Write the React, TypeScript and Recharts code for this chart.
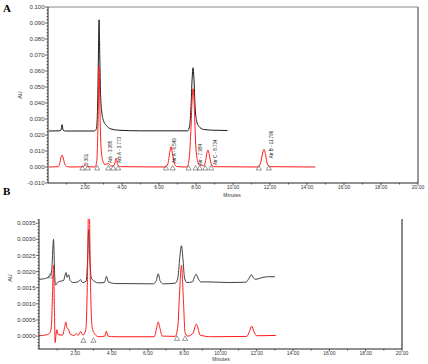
import React from "react";
import { ComposedChart, Line, XAxis, YAxis, ReferenceLine, ReferenceDot, Label } from "recharts";

type Pt = [number, number];

// Panel A (AU vs minutes)
const aBlack: Pt[] = [
  [0.05, 0.0225], [0.6, 0.0226], [0.7, 0.023], [0.76, 0.0265], [0.82, 0.023], [0.95, 0.0225],
  [2.5, 0.0225], [2.62, 0.024], [2.68, 0.038], [2.72, 0.065], [2.76, 0.092], [2.8, 0.068],
  [2.84, 0.046], [2.9, 0.035], [3.0, 0.029], [3.15, 0.026], [3.4, 0.0238], [3.8, 0.023],
  [5.0, 0.0226], [7.55, 0.0226], [7.66, 0.026], [7.73, 0.038], [7.79, 0.055], [7.84, 0.062],
  [7.89, 0.055], [7.95, 0.038], [8.03, 0.029], [8.15, 0.0255], [8.4, 0.0235], [8.9, 0.023],
  [9.7, 0.0228],
];

const aRed: Pt[] = [
  [0.05, 0], [0.55, 0.0002], [0.63, 0.002], [0.7, 0.0058], [0.76, 0.0075], [0.82, 0.0058],
  [0.9, 0.002], [1.0, 0.0004], [1.2, 0], [1.85, 0.0001], [2.02, 0.0012], [2.15, 0.0002],
  [2.55, 0], [2.64, 0.004], [2.7, 0.025], [2.76, 0.063], [2.82, 0.028], [2.88, 0.01],
  [2.96, 0.004], [3.08, 0.0015], [3.25, 0.0022], [3.4, 0.0006], [3.58, 0.001], [3.68, 0.0055],
  [3.78, 0.0012], [3.95, 0.0002], [6.35, 0], [6.48, 0.002], [6.58, 0.009], [6.65, 0.0127],
  [6.72, 0.009], [6.82, 0.0025], [6.95, 0.0003], [7.5, 0], [7.62, 0.004], [7.72, 0.022],
  [7.79, 0.042], [7.84, 0.049], [7.9, 0.04], [7.98, 0.015], [8.08, 0.004], [8.2, 0.001],
  [8.3, 0.0012], [8.42, 0.0006], [8.52, 0.004], [8.6, 0.0095], [8.65, 0.0106], [8.72, 0.0075],
  [8.82, 0.002], [8.95, 0.0002], [11.35, 0], [11.5, 0.003], [11.62, 0.0095], [11.68, 0.011],
  [11.75, 0.0085], [11.85, 0.002], [12.0, 0.0002], [14.45, 0],
];

const aPeakNames = ["2.301", "Arb - 3.385", "Arb A - 3.773", "Atr A - 6.549", "Atr - 7.984", "Atr C - 8.734", "Atr B - 11.796"];
const aPeakLabelT = [2.1, 3.35, 3.84, 6.86, 8.26, 9.04, 12.08];
const aPeakLabelV = [0.0012, 0.0025, 0.0025, 0.0025, 0.0012, 0.0012, 0.0055];

const aMarkT = [1.86, 2.15, 2.66, 3.26, 3.53, 3.79, 6.38, 6.74, 7.6, 7.98, 8.2, 8.5, 8.82, 11.4, 11.94];

// Panel B
const bBlack: Pt[] = [
  [0, 0.00176], [0.3, 0.00178], [0.55, 0.00184], [0.65, 0.0019], [0.72, 0.0022], [0.77, 0.0028],
  [0.8, 0.003], [0.83, 0.0026], [0.87, 0.0018], [0.92, 0.00158], [1.0, 0.00165], [1.15, 0.0017],
  [1.35, 0.00172], [1.44, 0.0019], [1.49, 0.00197], [1.55, 0.00182], [1.63, 0.0019], [1.72, 0.00172],
  [1.9, 0.00166], [2.15, 0.00168], [2.28, 0.00175], [2.4, 0.00166], [2.6, 0.0017], [2.68, 0.0024],
  [2.74, 0.0033], [2.8, 0.0024], [2.88, 0.0018], [3.0, 0.00172], [3.3, 0.00165], [3.6, 0.00166],
  [3.72, 0.00185], [3.82, 0.00168], [4.2, 0.00163], [6.3, 0.00162], [6.45, 0.0017], [6.57, 0.00193],
  [6.68, 0.0017], [6.85, 0.00162], [7.5, 0.00164], [7.65, 0.0018], [7.75, 0.0024], [7.85, 0.0028],
  [7.93, 0.0024], [8.02, 0.0018], [8.15, 0.00166], [8.45, 0.00168], [8.58, 0.00185], [8.66, 0.00192],
  [8.76, 0.0018], [8.9, 0.00168], [9.3, 0.00168], [10.5, 0.00166], [11.4, 0.00167], [11.58, 0.0018],
  [11.7, 0.0019], [11.82, 0.0018], [11.95, 0.00176], [12.2, 0.0018], [12.6, 0.00184], [13.0, 0.00184],
];

const bRed: Pt[] = [
  [0, 0.00001], [0.4, 0.00004], [0.6, 0.0001], [0.68, 0.0003], [0.74, 0.0012], [0.8, 0.0022],
  [0.85, 0.0008], [0.89, -0.0002], [0.93, 0.0], [0.98, 0.0002], [1.05, 0.00005], [1.3, 0.00003],
  [1.42, 0.0003], [1.48, 0.00044], [1.54, 0.00025], [1.63, 0.00021], [1.72, 0.00006], [1.95, 0.00002],
  [2.06, 0.00008], [2.15, 0.00002], [2.3, 0.00014], [2.42, 0.00003], [2.58, 0.0002], [2.66, 0.0015],
  [2.75, 0.0046], [2.84, 0.0015], [2.92, 0.0003], [3.05, 0.00008], [3.3, -0.00002], [3.62, 0.0],
  [3.71, 0.00015], [3.8, 0.0], [4.2, -0.00002], [6.35, -0.00002], [6.48, 0.00025], [6.57, 0.00044],
  [6.66, 0.00025], [6.8, 0.0], [7.5, -0.00001], [7.65, 0.0003], [7.75, 0.0014], [7.85, 0.0022],
  [7.95, 0.0012], [8.05, 0.0001], [8.2, 0.0], [8.5, 0.0001], [8.6, 0.0003], [8.66, 0.00037],
  [8.74, 0.00028], [8.88, 0.00003], [9.5, -0.00002], [11.45, -0.00001], [11.6, 0.00015], [11.72, 0.00031],
  [11.84, 0.00014], [12.0, 0.00001], [13.05, 0.00002],
];

const bMarks: Pt[] = [[0.62, 0.0019], [2.45, -0.0001], [3.0, -0.0001], [7.6, -0.00004], [8.05, -0.00004]];

// axis ticks
const xMajor = [2, 4, 6, 8, 10, 12, 14, 16, 18, 20];
const aYMajor = [-0.01, 0, 0.01, 0.02, 0.03, 0.04, 0.05, 0.06, 0.07, 0.08, 0.09, 0.1];
const bYMajor = [0, 0.0005, 0.001, 0.0015, 0.002, 0.0025, 0.003, 0.0035];

const steps = (lo: number, hi: number, step: number) => {
  const out: number[] = [];
  for (let i = 0; lo + i * step <= hi + 1e-12; i++) out.push(+(lo + i * step).toFixed(6));
  return out;
};

const toRows = (pts: Pt[]) => pts.map(([t, v]) => ({ t, v }));
const isIn = (list: number[], v: number) => list.some((m) => Math.abs(m - v) < 1e-9);

const FONT = "'Liberation Sans', Arial, sans-serif";
const INK = "#333";

const makeYTick = (majors: number[], decimals: number) => (props: any) => {
  const { x, y, payload } = props;
  const major = isIn(majors, payload.value);
  return (
    <g>
      <line x1={x - (major ? 3 : 1.5)} x2={x} y1={y} y2={y} stroke="#222" strokeWidth={0.7} />
      {major && (
        <text x={x - 3.5} y={y} dy="0.35em" textAnchor="end" fontSize={6} fontFamily={FONT} fill={INK}>
          {payload.value.toFixed(decimals)}
        </text>
      )}
    </g>
  );
};

const xTick = (props: any) => {
  const { x, y, payload } = props;
  const major = isIn(xMajor, payload.value);
  return (
    <g>
      <line x1={x} x2={x} y1={y} y2={y + (major ? 2.5 : 1.5)} stroke="#222" strokeWidth={0.7} />
      {major && (
        <text x={x} y={y + 3.8} dy="0.35em" textAnchor="middle" fontSize={5} fontFamily={FONT} fill={INK}>
          {payload.value.toFixed(2)}
        </text>
      )}
    </g>
  );
};

const triangle = (p: any) => (
  <path
    d={`M${p.cx - 2.6},${p.cy + 3} L${p.cx},${p.cy - 1.5} L${p.cx + 2.6},${p.cy + 3} Z`}
    fill="none"
    stroke="#555"
    strokeWidth={0.6}
  />
);

const peakName = (name: string) => (p: any) => (
  <text
    x={p.cx}
    y={p.cy}
    dy="0.35em"
    transform={`rotate(-90 ${p.cx} ${p.cy})`}
    fontSize={4.5}
    fontFamily={FONT}
    fill="#222"
  >
    {name}
  </text>
);

const textAt = (x: number, y: number, s: string, size: number, rotate = false) => () => (
  <text
    x={x}
    y={y}
    textAnchor="middle"
    dy="0.35em"
    transform={rotate ? `rotate(-90 ${x} ${y})` : undefined}
    fontSize={size}
    fontFamily={FONT}
    fill={INK}
  >
    {s}
  </text>
);

const panelLetter: React.CSSProperties = {
  position: "absolute",
  left: 3,
  fontFamily: "'Liberation Serif', 'Times New Roman', serif",
  fontWeight: "bold",
  fontSize: 11,
  lineHeight: "11px",
};

const App: React.FC = () => {
  const aYTicks = steps(-0.01, 0.1, 0.002);
  const bYTicks = steps(-0.0004, 0.0036, 0.0001);
  const xTicks = steps(1, 20, 1);

  return (
    <div style={{ position: "absolute", left: 0, top: 0, width: 428, height: 364, background: "#fff" }}>
      <div style={{ ...panelLetter, top: 3 }}>A</div>
      <div style={{ ...panelLetter, top: 186 }}>B</div>

      <div style={{ position: "absolute", left: 0, top: 0 }}>
        <ComposedChart width={428} height={200} margin={{ top: 7, right: 10, bottom: 0, left: 0 }}>
          <XAxis
            type="number"
            dataKey="t"
            domain={[0, 20]}
            ticks={xTicks}
            interval={0}
            tickSize={0}
            tickMargin={0}
            tickLine={false}
            tick={xTick}
            axisLine={{ stroke: "#222", strokeWidth: 1 }}
            height={17}
            allowDataOverflow
          >
            <Label content={textAt(232, 195.5, "Minutes", 5)} />
          </XAxis>
          <YAxis
            type="number"
            dataKey="v"
            domain={[-0.01, 0.1]}
            ticks={aYTicks}
            interval={0}
            tickSize={0}
            tickMargin={0}
            tickLine={false}
            tick={makeYTick(aYMajor, 3)}
            axisLine={{ stroke: "#222", strokeWidth: 1 }}
            width={48}
            allowDataOverflow
          >
            <Label content={textAt(20, 95, "AU", 5.5, true)} />
          </YAxis>
          <ReferenceLine y={0.1} stroke="#888" strokeWidth={1} />
          <ReferenceLine x={20} stroke="#777" strokeWidth={1.5} />
          <Line data={toRows(aBlack)} dataKey="v" type="monotone" stroke="#1a1a1a" strokeWidth={1} dot={false} isAnimationActive={false} />
          <Line data={toRows(aRed)} dataKey="v" type="monotone" stroke="#ff1a1a" strokeWidth={1} dot={false} isAnimationActive={false} />
          {aMarkT.map((t, i) => (
            <ReferenceDot key={`am${i}`} x={t} y={0} r={0} shape={triangle} />
          ))}
          {aPeakNames.map((name, i) => (
            <ReferenceDot key={name} x={aPeakLabelT[i]} y={aPeakLabelV[i]} r={0} shape={peakName(name)} />
          ))}
        </ComposedChart>
      </div>

      <div style={{ position: "absolute", left: 0, top: 200 }}>
        <ComposedChart width={428} height={164} margin={{ top: 19, right: 26, bottom: 0, left: 0 }}>
          <XAxis
            type="number"
            dataKey="t"
            domain={[0, 20]}
            ticks={xTicks}
            interval={0}
            tickSize={0}
            tickMargin={0}
            tickLine={false}
            tick={xTick}
            axisLine={{ stroke: "#222", strokeWidth: 1 }}
            height={15}
            allowDataOverflow
          >
            <Label content={textAt(221, 159.5, "Minutes", 5)} />
          </XAxis>
          <YAxis
            type="number"
            dataKey="v"
            domain={[-0.0004, 0.00363]}
            ticks={bYTicks}
            interval={0}
            tickSize={0}
            tickMargin={0}
            tickLine={false}
            tick={makeYTick(bYMajor, 4)}
            axisLine={{ stroke: "#222", strokeWidth: 1 }}
            width={39}
            allowDataOverflow
          >
            <Label content={textAt(10, 78, "AU", 5.5, true)} />
          </YAxis>
          <ReferenceLine x={20} stroke="#111" strokeWidth={1} />
          <Line data={toRows(bBlack)} dataKey="v" type="monotone" stroke="#2a2a2a" strokeWidth={0.9} dot={false} isAnimationActive={false} />
          <Line data={toRows(bRed)} dataKey="v" type="monotone" stroke="#ff1a1a" strokeWidth={1} dot={false} isAnimationActive={false} />
          {bMarks.map(([t, v], i) => (
            <ReferenceDot key={`bm${i}`} x={t} y={v} r={0} shape={triangle} />
          ))}
        </ComposedChart>
      </div>
    </div>
  );
};

export default App;
